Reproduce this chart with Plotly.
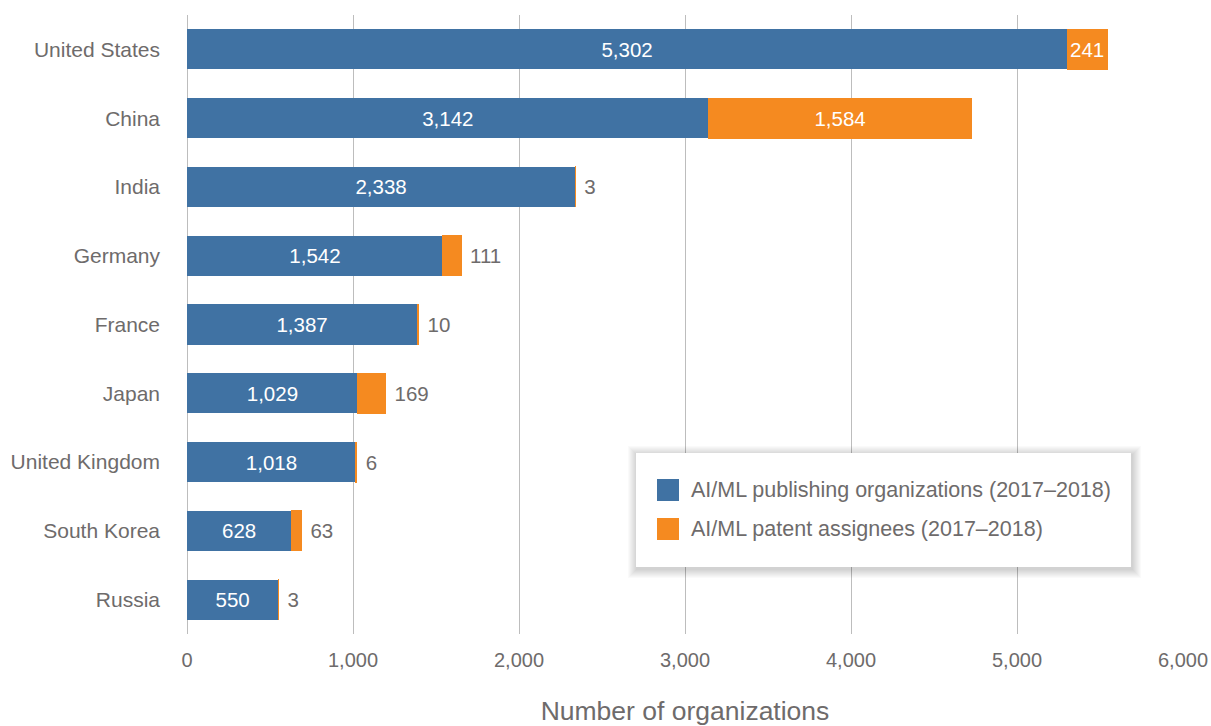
import plotly.graph_objects as go

countries = ["United States", "China", "India", "Germany", "France", "Japan",
             "United Kingdom", "South Korea", "Russia"]
publishing = [5302, 3142, 2338, 1542, 1387, 1029, 1018, 628, 550]
patents = [241, 1584, 3, 111, 10, 169, 6, 63, 3]
series_names = ["AI/ML publishing organizations (2017\u20132018)",
                "AI/ML patent assignees (2017\u20132018)"]
x_ticks = [0, 1000, 2000, 3000, 4000, 5000, 6000]
x_title = "Number of organizations"

BLUE = "#4072a3"
ORANGE = "#f58a20"
GRAY = "#6e6b6b"
FONT = "Liberation Sans, Arial, Helvetica, sans-serif"

W, H = 1211, 726
L, R, T, B = 187, 28, 15, 92
PW, PH = W - L - R, H - T - B


def fmt(v):
    return f"{v:,}"


fig = go.Figure()
fig.add_trace(go.Bar(
    y=countries, x=publishing, orientation="h", name=series_names[0],
    marker=dict(color=BLUE, line=dict(width=0)),
    text=[fmt(v) for v in publishing], textposition="inside",
    insidetextanchor="middle", textangle=0,
    insidetextfont=dict(color="white", size=20.5, family=FONT),
    showlegend=False, hoverinfo="skip",
))
pos = ["inside" if v > 200 else "outside" for v in patents]
ptext = [fmt(v) if p == "inside" else "\u00a0" + fmt(v) for v, p in zip(patents, pos)]
fig.add_trace(go.Bar(
    y=countries, x=patents, orientation="h", name=series_names[1],
    marker=dict(color=ORANGE, line=dict(width=1, color=ORANGE)),
    text=ptext, textposition=pos,
    insidetextanchor="middle", textangle=0,
    insidetextfont=dict(color="white", size=20.5, family=FONT),
    outsidetextfont=dict(color=GRAY, size=20.5, family=FONT),
    cliponaxis=False,
    showlegend=False, hoverinfo="skip",
))


def px_to_paper(x, y):
    return (x - L) / PW, (H - B - y) / PH


shapes = []
# legend soft shadow
bx0, by0, bx1, by1 = 636, 453, 1131, 567
layers = 9
for i in range(layers):
    g = layers - i
    a0 = px_to_paper(bx0 - g + 1, by0 - g + 2)
    a1 = px_to_paper(bx1 + g + 1, by1 + g + 2)
    shapes.append(dict(type="rect", xref="paper", yref="paper", layer="above",
                       x0=a0[0], y0=a0[1], x1=a1[0], y1=a1[1],
                       fillcolor="rgba(0,0,0,1)", opacity=0.018, line=dict(width=0)))
a0 = px_to_paper(bx0, by0)
a1 = px_to_paper(bx1, by1)
shapes.append(dict(type="rect", xref="paper", yref="paper", layer="above",
                   x0=a0[0], y0=a0[1], x1=a1[0], y1=a1[1],
                   fillcolor="white", line=dict(width=0)))
annotations = []
for i, (nm, col) in enumerate(zip(series_names, [BLUE, ORANGE])):
    cy = 490 + i * 39
    s0 = px_to_paper(657, cy - 11)
    s1 = px_to_paper(679, cy + 11)
    shapes.append(dict(type="rect", xref="paper", yref="paper", layer="above",
                       x0=s0[0], y0=s0[1], x1=s1[0], y1=s1[1],
                       fillcolor=col, line=dict(width=0)))
    tp = px_to_paper(689, cy)
    annotations.append(dict(xref="paper", yref="paper", x=tp[0], y=tp[1],
                            xanchor="left", yanchor="middle", showarrow=False,
                            text=nm, font=dict(size=21.5, color=GRAY, family=FONT)))

fig.update_layout(
    width=W, height=H,
    margin=dict(l=L, r=R, t=T, b=B, pad=0, autoexpand=False),
    barmode="stack", bargap=0.418,
    paper_bgcolor="white", plot_bgcolor="white",
    font=dict(family=FONT, color=GRAY, size=20),
    shapes=shapes, annotations=annotations,
    uniformtext=dict(mode="show", minsize=20.5),
    xaxis=dict(range=[0, 6000], tickvals=x_ticks,
               ticktext=[fmt(v) for v in x_ticks],
               showgrid=True, gridcolor="#bdbdbd", gridwidth=1,
               zeroline=True, zerolinecolor="#bdbdbd", zerolinewidth=1,
               showline=False, ticks="", ticklabelstandoff=12, automargin=False,
               tickfont=dict(size=20, color=GRAY),
               title=dict(text=x_title, font=dict(size=26.5, color=GRAY), standoff=38)),
    yaxis=dict(autorange="reversed", showgrid=False, zeroline=False,
               showline=False, ticks="", ticklabelstandoff=26, automargin=False,
               tickfont=dict(size=21, color=GRAY)),
)

fig.write_html("out.html")
